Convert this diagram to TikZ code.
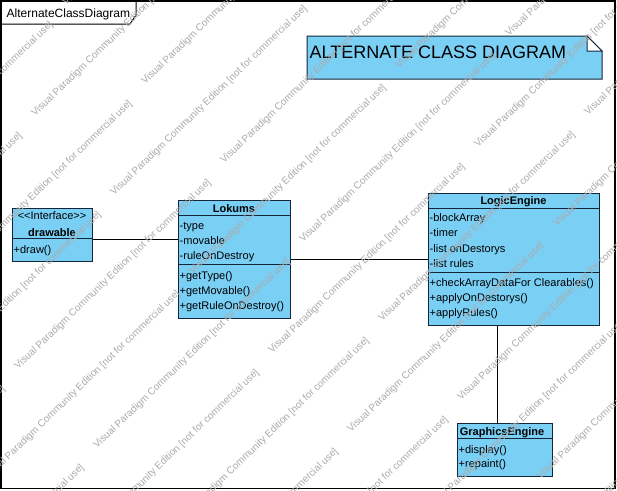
\documentclass[tikz,border=0pt]{standalone}
\usepackage{fontspec}
\setmainfont{Liberation Sans}
\definecolor{clsfill}{HTML}{7ACFF5}
\definecolor{clsline}{HTML}{14253A}
\definecolor{wmgray}{HTML}{ABABAB}
\begin{document}
\begin{tikzpicture}[x=1pt,y=-1pt,
  cls/.style={draw=clsline, fill=clsfill, line width=1pt, inner sep=0pt, anchor=north west},
  sepline/.style={draw=clsline, line width=1pt},
  mem/.style={anchor=base west, inner sep=0pt, font=\fontsize{11}{13}\selectfont},
  cname/.style={anchor=base, inner sep=0pt, font=\fontsize{11}{13}\selectfont\bfseries},
  stereo/.style={anchor=base, inner sep=0pt, font=\fontsize{11}{13}\selectfont},
  assoc/.style={draw=black, line width=1pt},
  wm/.style={anchor=base west, inner sep=0pt, rotate=44, text=wmgray, font=\fontsize{10}{12}\selectfont}]
\useasboundingbox (0,0) rectangle (617,490);
\fill[white] (0,0) rectangle (617,490);

% frame and title tab
\draw[line width=1.5pt] (0.75,0.75) rectangle (615,488.5);
\draw[line width=1pt] (0.5,24) -- (130,24) -- (136,15) -- (136,0.5);
\node[anchor=base west, inner sep=0pt, font=\fontsize{12}{14}\selectfont] (title) at (6.5,17.5) {AlternateClassDiagram};

% note
\draw[clsline, line width=1pt, fill=clsfill] (307,36) -- (587,36) -- (602,51) -- (602,79) -- (307,79) -- cycle;
\draw[clsline, line width=1pt, fill=white] (587,36) -- (587,51) -- (602,51) -- cycle;
\node[anchor=base west, inner sep=0pt, font=\fontsize{18}{20}\selectfont] (note) at (309.5,58.5) {ALTERNATE CLASS DIAGRAM};

% drawable
\node[cls, minimum width=80, minimum height=53] (drawable) at (12,208) {};
\draw[sepline] (12,238) -- (92,238);
\node[stereo] (d-st) at (52,219.5) {\mbox{<}\mbox{<}Interface\mbox{>}\mbox{>}};
\node[cname] (d-name) at (52,236) {drawable};
\node[mem] (d-op1) at (13.5,253) {+draw()};

% Lokums
\node[cls, minimum width=112, minimum height=118] (lokums) at (178,200) {};
\draw[sepline] (178,215) -- (290,215);
\draw[sepline] (178,264) -- (290,264);
\node[cname] (l-name) at (234,212) {Lokums};
\node[mem] (l-a1) at (179.5,229) {-type};
\node[mem] (l-a2) at (179.5,244) {-movable};
\node[mem] (l-a3) at (179.5,259) {-ruleOnDestroy};
\node[mem] (l-o1) at (179.5,279) {+getType()};
\node[mem] (l-o2) at (179.5,294) {+getMovable()};
\node[mem] (l-o3) at (179.5,309) {+getRuleOnDestroy()};

% LogicEngine
\node[cls, minimum width=171, minimum height=132] (logic) at (428,193) {};
\draw[sepline] (428,208) -- (599,208);
\draw[sepline] (428,272) -- (599,272);
\node[cname] (g-name) at (513.5,204) {LogicEngine};
\node[mem] (g-a1) at (429.5,221) {-blockArray};
\node[mem] (g-a2) at (429.5,236.5) {-timer};
\node[mem] (g-a3) at (429.5,252) {-list onDestorys};
\node[mem] (g-a4) at (429.5,267.5) {-list rules};
\node[mem] (g-o1) at (429.5,286.5) {+checkArrayDataFor Clearables()};
\node[mem] (g-o2) at (429.5,301.5) {+applyOnDestorys()};
\node[mem] (g-o3) at (429.5,316.5) {+applyRules()};

% GraphicsEngine
\node[cls, minimum width=95, minimum height=53] (graphics) at (457,423) {};
\draw[sepline] (457,438) -- (552,438);
\node[cname] (ge-name) at (502,435.5) {GraphicsEngine};
\node[mem] (ge-o1) at (458.5,453) {+display()};
\node[mem] (ge-o2) at (458.5,467) {+repaint()};

% associations
\path ([yshift=-4.5pt]drawable.east) coordinate (c1);
\draw[assoc] (c1) -- (c1 -| lokums.west);
\draw[assoc] (lokums.east) -- (logic.west);
\path ([xshift=-7.5pt]graphics.north) coordinate (c2);
\draw[assoc] (c2) -- (c2 |- logic.south);

% watermark
\begin{scope}
\clip (0,0) rectangle (617,490);
\foreach \i in {0,...,7}{
  \foreach \j in {0,...,3}{
    \node[wm] (wa-\i-\j) at ({35+79*(\i-1)+206*(\j-2)},{117+79*(\i-1)-206*(\j-2)}) {Visual Paradigm Community Edition [not for commercial use]};
  }
}
\foreach \i in {0,...,6}{
  \foreach \j in {0,...,3}{
    \node[wm] (wb-\i-\j) at ({145+79*(\i-1)+206*(\j-2)},{85+79*(\i-1)-206*(\j-2)}) {Visual Paradigm Community Edition [not for commercial use]};
  }
}
\end{scope}
\end{tikzpicture}
\end{document}
